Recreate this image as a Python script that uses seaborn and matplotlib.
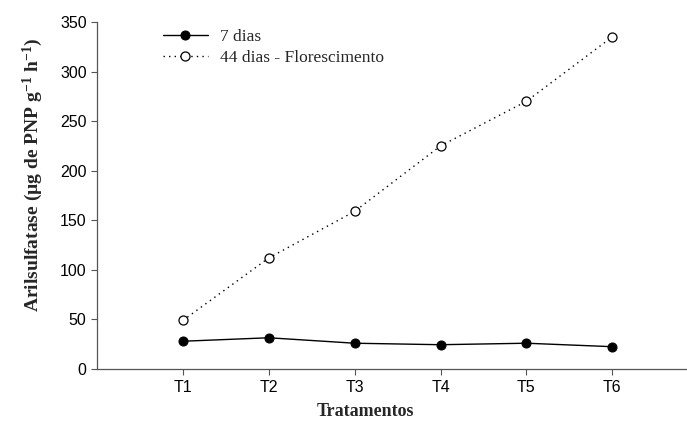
import matplotlib
matplotlib.use("Agg")
import matplotlib.pyplot as plt
import seaborn as sns
import pandas as pd

tratamentos = ["T1", "T2", "T3", "T4", "T5", "T6"]
dias7 = [28, 31.5, 26, 24.5, 26, 22.5]
dias44 = [49, 112, 159, 225, 270, 335]
series_names = ["7 dias", "44 dias - Florescimento"]
yticks = [0, 50, 100, 150, 200, 250, 300, 350]

sns.set_style("ticks")
plt.rcParams["font.family"] = ["Liberation Sans", "DejaVu Sans"]
plt.rcParams["mathtext.fontset"] = "custom"
plt.rcParams["mathtext.rm"] = "Liberation Serif:bold"
plt.rcParams["mathtext.it"] = "Liberation Serif:bold"
plt.rcParams["mathtext.bf"] = "Liberation Serif:bold"

fig = plt.figure(figsize=(6.87, 4.24), dpi=100)
ax = fig.add_axes([97/687, 1-369/424, 1-97/687, (369-22)/424])

xs = list(range(1, len(tratamentos) + 1))
df1 = pd.DataFrame({"x": xs, "y": dias7})
df2 = pd.DataFrame({"x": xs, "y": dias44})

sns.lineplot(data=df1, x="x", y="y", ax=ax, color="black", lw=1.0,
             marker="o", markersize=6.5, markerfacecolor="black",
             markeredgecolor="black", label=series_names[0])
sns.lineplot(data=df2, x="x", y="y", ax=ax, color="black", lw=1.0,
             linestyle=(0, (1, 3)), marker="o", markersize=6.5,
             markerfacecolor="white", markeredgecolor="black",
             markeredgewidth=0.9, label=series_names[1])

ax.set_xlim(0, 6.87)
ax.set_ylim(0, 350)
ax.set_xticks(xs)
ax.set_xticklabels(tratamentos)
ax.set_yticks(yticks)
ax.tick_params(axis="both", labelsize=11.5, length=4, width=0.8, colors="#555555",
               labelcolor="black", direction="out")
ax.tick_params(axis="x", pad=4)
for s in ["top", "right"]:
    ax.spines[s].set_visible(False)
for s in ["left", "bottom"]:
    ax.spines[s].set_color("#555555")
    ax.spines[s].set_linewidth(0.9)

ax.set_xlabel("Tratamentos", fontfamily="Liberation Serif", fontweight="bold",
              fontsize=13)
ax.xaxis.set_label_coords(0.455, -0.098)
ax.set_ylabel(r"Arilsulfatase (µg de PNP g$^{\mathbf{-1}}$ h$^{\mathbf{-1}}$)",
              fontfamily="Liberation Serif", fontweight="bold", fontsize=14)
ax.yaxis.set_label_coords(-0.088, 0.56)

leg = ax.legend(loc="upper left", bbox_to_anchor=(0.085, 1.025), frameon=False,
                prop={"family": "Liberation Serif", "size": 12.5},
                handlelength=2.6, labelspacing=0.25, handletextpad=0.7)

fig.savefig("out.png", dpi=100)
